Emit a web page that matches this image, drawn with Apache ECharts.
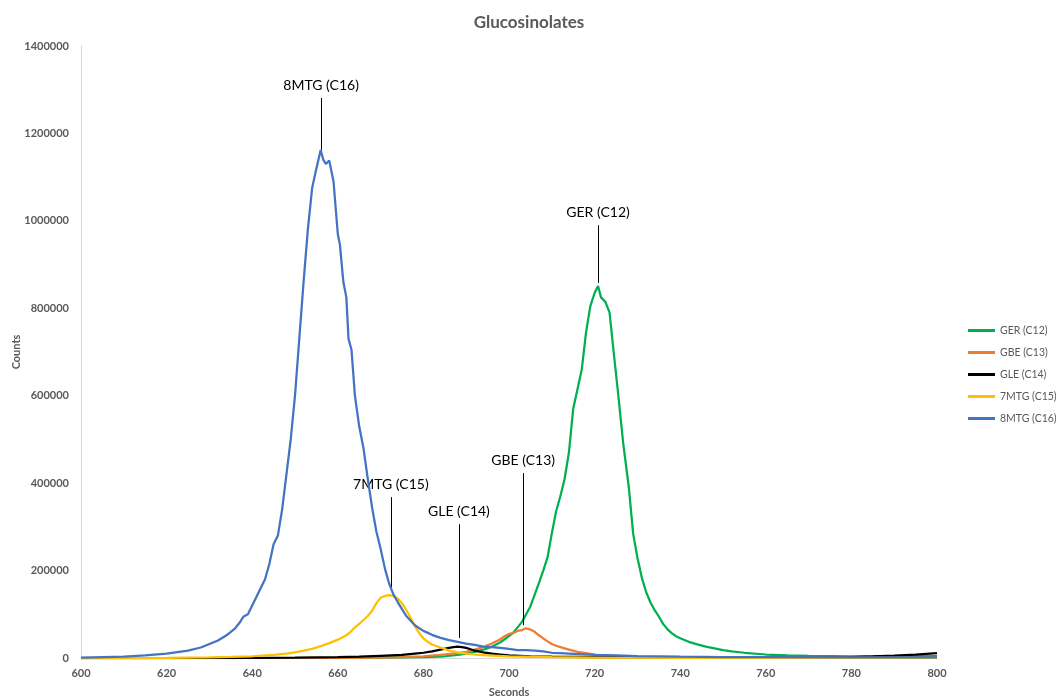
<!DOCTYPE html>
<html>
<head>
<meta charset="utf-8">
<title>Glucosinolates</title>
<script src="https://cdn.jsdelivr.net/npm/echarts@6/dist/echarts.min.js"></script>
<style>
  html, body { margin: 0; padding: 0; background: #ffffff; }
  #chart { width: 1058px; height: 700px; }
</style>
</head>
<body>
<div id="chart"></div>
<script>
// Retention time (s) and ion counts for each glucosinolate trace
const gerTime = [600, 660, 670, 680, 685, 688, 690, 692, 694, 696, 698, 700, 701, 702, 703, 704, 705, 706, 707, 708, 709, 710, 711, 712, 713, 714, 715, 716, 717, 718, 719, 720, 720.8, 721.5, 722.5, 723.5, 724.4, 725.5, 726.7, 728, 729, 730, 731, 732, 733, 734, 735, 736, 737, 738, 739, 740, 742, 744, 746, 748, 750, 752, 755, 760, 765, 770, 780, 790, 800];
const gerCounts = [0, 300, 800, 2000, 4000, 7000, 10000, 14000, 19000, 26000, 36000, 50000, 58000, 70000, 82000, 100000, 118000, 145000, 172000, 200000, 230000, 285000, 335000, 370000, 410000, 470000, 570000, 615000, 660000, 745000, 805000, 835000, 851000, 825000, 815000, 790000, 705000, 605000, 490000, 390000, 285000, 230000, 185000, 152000, 128000, 110000, 95000, 78000, 66000, 57000, 50000, 45000, 37000, 31000, 26000, 22000, 18000, 15000, 12000, 8000, 6000, 5000, 4000, 4000, 4500];

const gbeTime = [600, 660, 670, 675, 680, 684, 688, 690, 692, 694, 696, 698, 699, 700, 701, 702, 703, 704, 705, 706, 707, 708, 709, 710, 711, 712, 714, 716, 718, 720, 725, 730, 740, 760, 800];
const gbeCounts = [0, 500, 1000, 2000, 4000, 7000, 11000, 14000, 19000, 25000, 33000, 43000, 50000, 55000, 57000, 62000, 64000, 68000, 65000, 60000, 52000, 45000, 38000, 32000, 28000, 25000, 19000, 14000, 11000, 8000, 4000, 2500, 1000, 500, 300];

const gleTime = [600, 640, 650, 660, 665, 670, 675, 678, 680, 682, 684, 686, 687, 688, 689, 690, 691, 692, 694, 696, 698, 700, 705, 710, 720, 740, 760, 770, 780, 785, 790, 795, 800];
const gleCounts = [0, 500, 1000, 2000, 3000, 5000, 7000, 10000, 12000, 15000, 19000, 23000, 25000, 26000, 25000, 23000, 20000, 17000, 13000, 10000, 8000, 6000, 4000, 3000, 2000, 1000, 800, 1000, 2000, 3500, 5500, 8000, 11000];

const mtg7Time = [600, 620, 630, 635, 640, 645, 648, 650, 652, 654, 656, 658, 660, 662, 663, 664, 665, 666, 667, 668, 669, 670, 671, 672, 673, 674, 675, 676, 677, 678, 679, 680, 681, 682, 684, 686, 688, 690, 692, 695, 700, 710, 720, 740, 800];
const mtg7Counts = [0, 500, 1500, 2500, 4000, 7000, 10000, 13000, 17000, 21000, 27000, 34000, 42000, 52000, 60000, 70000, 78000, 87000, 96000, 108000, 125000, 138000, 142000, 144000, 142000, 136000, 125000, 110000, 92000, 73000, 57000, 45000, 37000, 31000, 24000, 17000, 13000, 10000, 8000, 6000, 4000, 2000, 1000, 500, 300];

const mtg8Time = [600, 605, 610, 615, 620, 625, 628, 630, 632, 634, 636, 637, 638, 639, 640, 641, 642, 643, 644, 645, 646, 647, 648, 649, 650, 651, 652, 653, 654, 655, 656, 656.6, 657.2, 658, 659, 660, 660.5, 661.3, 662, 662.5, 663.2, 664, 665, 666, 667, 668, 669, 670, 671, 672, 673, 674, 675, 676, 678, 680, 682, 684, 686, 688, 690, 692, 694, 696, 698, 700, 702, 704, 706, 708, 710, 712, 716, 720, 725, 730, 740, 750, 760, 780, 800];
const mtg8Counts = [1000, 2000, 3000, 6000, 10000, 17000, 24000, 32000, 40000, 52000, 68000, 80000, 95000, 100000, 120000, 140000, 160000, 180000, 215000, 260000, 280000, 340000, 420000, 500000, 600000, 730000, 860000, 980000, 1075000, 1120000, 1162000, 1140000, 1130000, 1138000, 1090000, 970000, 945000, 860000, 825000, 730000, 705000, 600000, 530000, 480000, 410000, 345000, 290000, 250000, 205000, 170000, 145000, 128000, 112000, 96000, 75000, 62000, 53000, 46000, 41000, 37000, 33000, 30000, 26000, 25000, 23000, 21000, 18000, 18000, 17000, 15000, 12000, 11000, 9000, 7000, 6000, 4500, 3000, 2000, 2000, 1500, 1500];

// Peak callouts: label, retention time, line top and line bottom (counts)
const peakNames = ['GER (C12)', 'GBE (C13)', 'GLE (C14)', '7MTG (C15)', '8MTG (C16)'];
const peakTime = [720.8, 703.3, 688.3, 672.4, 656.1];
const peakLineTop = [990000, 423000, 306000, 368000, 1281000];
const peakLineBottom = [858000, 75000, 46000, 156000, 1162000];

const seriesNames = peakNames;
const seriesColors = ['#00B050', '#ED7D31', '#000000', '#FFC000', '#4472C4'];
const seriesTimes = [gerTime, gbeTime, gleTime, mtg7Time, mtg8Time];
const seriesCounts = [gerCounts, gbeCounts, gleCounts, mtg7Counts, mtg8Counts];

const xTicks = { min: 600, max: 800, interval: 20 };
const yTicks = { min: 0, max: 1400000, interval: 200000 };

const FONT = 'Lato, "Open Sans", sans-serif';
const GREY = '#595959';

const series = seriesNames.map((name, i) => ({
  name: name,
  type: 'line',
  showSymbol: false,
  symbol: 'none',
  smooth: false,
  z: 2 + i,
  lineStyle: { color: seriesColors[i], width: 2.25 },
  itemStyle: { color: seriesColors[i] },
  data: seriesTimes[i].map((t, k) => [t, seriesCounts[i][k]]),
  markLine: {
    silent: true,
    symbol: ['none', 'none'],
    animation: false,
    lineStyle: { color: '#000000', width: 1, type: 'solid' },
    label: {
      show: true,
      position: 'start',
      distance: 6,
      color: '#000000',
      fontFamily: FONT,
      fontSize: 14,
      formatter: peakNames[i]
    },
    data: [[
      { coord: [peakTime[i], peakLineTop[i]] },
      { coord: [peakTime[i], peakLineBottom[i]] }
    ]]
  }
}));

const chart = echarts.init(document.getElementById('chart'), null, { renderer: 'canvas' });
chart.setOption({
  animation: false,
  backgroundColor: '#ffffff',
  title: {
    text: 'Glucosinolates',
    left: 'center',
    top: 9,
    textStyle: { color: GREY, fontFamily: FONT, fontSize: 17, fontWeight: 'bold' }
  },
  legend: {
    orient: 'vertical',
    left: 963,
    top: 320,
    itemWidth: 27,
    itemHeight: 3,
    itemGap: 11,
    icon: 'rect',
    data: seriesNames,
    textStyle: { color: GREY, fontFamily: FONT, fontSize: 10.5 }
  },
  grid: { left: 81, right: 121, top: 46, bottom: 42, containLabel: false, outerBoundsMode: 'none' },
  xAxis: {
    type: 'value',
    min: xTicks.min,
    max: xTicks.max,
    interval: xTicks.interval,
    name: 'Seconds',
    nameLocation: 'middle',
    nameGap: 29,
    nameMoveOverlap: false,
    nameTextStyle: { color: GREY, fontFamily: FONT, fontSize: 11, fontWeight: 'bold' },
    axisLine: { show: true, lineStyle: { color: '#D9D9D9', width: 1 } },
    axisTick: { show: false },
    splitLine: { show: false },
    axisLabel: { color: GREY, fontFamily: FONT, fontSize: 11, fontWeight: 'bold', margin: 10 }
  },
  yAxis: {
    type: 'value',
    min: yTicks.min,
    max: yTicks.max,
    interval: yTicks.interval,
    name: 'Counts',
    nameLocation: 'middle',
    nameGap: 59,
    nameRotate: 90,
    nameMoveOverlap: false,
    nameTextStyle: { color: GREY, fontFamily: FONT, fontSize: 11, fontWeight: 'bold' },
    axisLine: { show: true, lineStyle: { color: '#D9D9D9', width: 1 } },
    axisTick: { show: false },
    splitLine: { show: false },
    axisLabel: {
      color: GREY, fontFamily: FONT, fontSize: 11, fontWeight: 'bold', margin: 12,
      formatter: (v) => String(v)
    }
  },
  series: series
});
</script>
</body>
</html>
